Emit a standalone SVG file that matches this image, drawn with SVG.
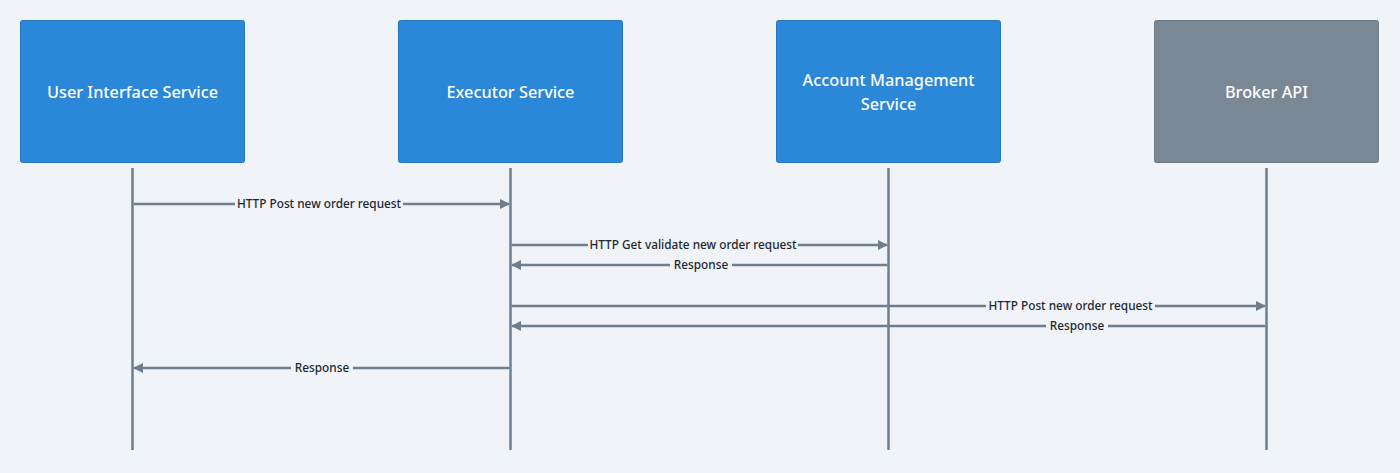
<svg xmlns="http://www.w3.org/2000/svg" width="1400" height="473" viewBox="0 0 1400 473">
<style>
.box{fill:#2b87d8;stroke:#2677c2;stroke-width:1}
.ext{fill:#7a8896;stroke:#6e7c8a;stroke-width:1}
.title{font-family:"Noto Sans","Liberation Sans",sans-serif;font-size:16.3px;font-weight:500;fill:#ffffff;text-anchor:middle}
.life{stroke:#6f7e8d;stroke-width:2.5;fill:none}
.msg{stroke:#6f7e8d;stroke-width:2.5;fill:none}
.lbl{font-family:"Noto Sans","Liberation Sans",sans-serif;font-size:11.8px;font-weight:500;fill:#1c2733;text-anchor:middle}
.lblbg{fill:#f0f4f8}
</style>
<defs>
<marker id="ah" viewBox="0 0 10 10" refX="9" refY="5" markerWidth="4.2" markerHeight="4.2" orient="auto-start-reverse" markerUnits="strokeWidth">
<path d="M0,0 L10,5 L0,10 z" fill="#6f7e8d"/>
</marker>
</defs>
<rect width="1400" height="473" fill="#f0f4f8"/>
<g id="lifelines">
<line class="life" x1="132.5" y1="168" x2="132.5" y2="450"/>
<line class="life" x1="510.5" y1="168" x2="510.5" y2="450"/>
<line class="life" x1="888.5" y1="168" x2="888.5" y2="450"/>
<line class="life" x1="1266.5" y1="168" x2="1266.5" y2="450"/>
</g>
<g id="ui">
<rect class="box" x="20.5" y="20.5" width="224" height="142" rx="2"/>
<text class="title" x="132.5" y="97.5">User Interface Service</text>
</g>
<g id="executor">
<rect class="box" x="398.5" y="20.5" width="224" height="142" rx="2"/>
<text class="title" x="510.5" y="97.5">Executor Service</text>
</g>
<g id="account">
<rect class="box" x="776.5" y="20.5" width="224" height="142" rx="2"/>
<text class="title" x="888.5" y="85.5">Account Management</text>
<text class="title" x="888.5" y="109.5">Service</text>
</g>
<g id="broker">
<rect class="ext" x="1154.5" y="20.5" width="224" height="142" rx="2"/>
<text class="title" x="1266.5" y="97.5">Broker API</text>
</g>
<g id="connectors">
<line class="msg" x1="133.5" y1="204" x2="509" y2="204" marker-end="url(#ah)"/>
<rect class="lblbg" x="235" y="196" width="168" height="16"/>
<text class="lbl" x="319" y="208">HTTP Post new order request</text>

<line class="msg" x1="511.5" y1="245" x2="887" y2="245" marker-end="url(#ah)"/>
<rect class="lblbg" x="588" y="237" width="210" height="16"/>
<text class="lbl" x="693" y="249">HTTP Get validate new order request</text>

<line class="msg" x1="887.5" y1="265" x2="512" y2="265" marker-end="url(#ah)"/>
<rect class="lblbg" x="670" y="257" width="62" height="16"/>
<text class="lbl" x="701" y="269">Response</text>

<line class="msg" x1="511.5" y1="306" x2="1265" y2="306" marker-end="url(#ah)"/>
<rect class="lblbg" x="986" y="298" width="169" height="16"/>
<text class="lbl" x="1070.5" y="310">HTTP Post new order request</text>

<line class="msg" x1="1265.5" y1="326" x2="512" y2="326" marker-end="url(#ah)"/>
<rect class="lblbg" x="1046" y="318" width="62" height="16"/>
<text class="lbl" x="1077" y="330">Response</text>

<line class="msg" x1="509.5" y1="368" x2="134" y2="368" marker-end="url(#ah)"/>
<rect class="lblbg" x="291" y="360" width="62" height="16"/>
<text class="lbl" x="322" y="372">Response</text>
</g>
</svg>
